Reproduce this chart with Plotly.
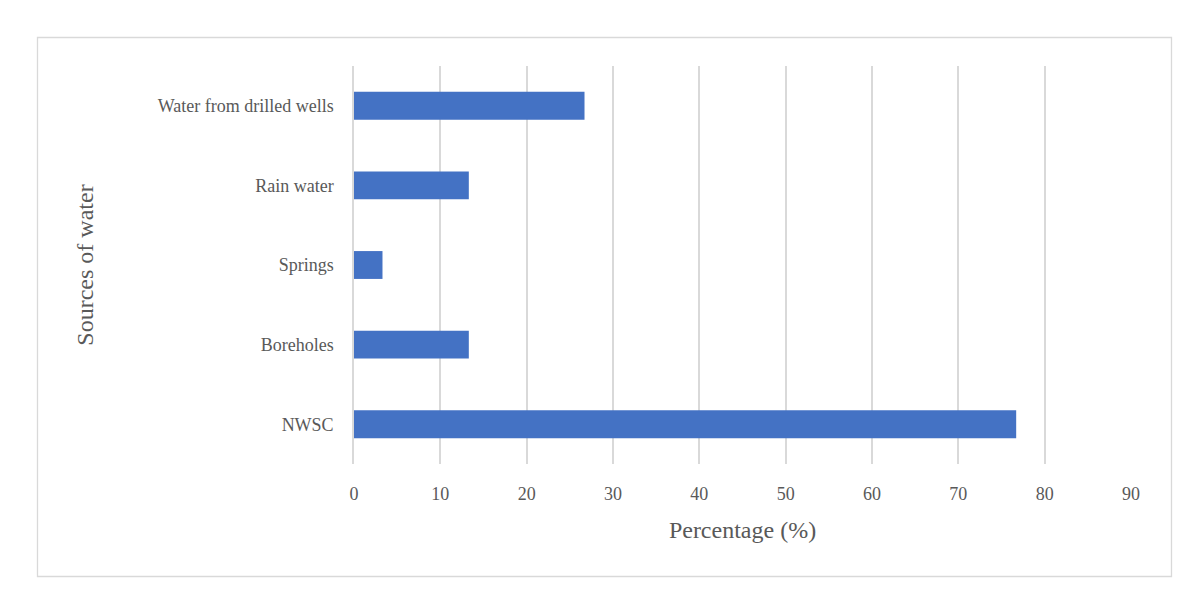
import plotly.graph_objects as go

categories = ["NWSC", "Boreholes", "Springs", "Rain water", "Water from drilled wells"]
percentages = [76.7, 13.3, 3.3, 13.3, 26.7]
x_ticks = [0, 10, 20, 30, 40, 50, 60, 70, 80, 90]

W, H = 1203, 608
L, R, T, B = 354, 72, 66, 144
pw, ph = W - L - R, H - T - B

def px_x(p):
    return (p - L) / pw

def px_y(p):
    return (H - B - p) / ph

FONT = "Liberation Serif"
GREY = "#595959"

fig = go.Figure(go.Bar(
    y=categories, x=percentages, orientation="h",
    marker=dict(color="#4472C4", line=dict(width=0)),
))

fig.update_layout(
    width=W, height=H,
    margin=dict(l=L, r=R, t=T, b=B),
    paper_bgcolor="white", plot_bgcolor="white",
    bargap=0.65,
    showlegend=False,
    font=dict(family=FONT, color=GREY, size=18),
    xaxis=dict(
        range=[0, 90], tickvals=x_ticks, showgrid=True, gridcolor="#d9d9d9", gridwidth=1.5,
        zeroline=False, showline=False, ticks="", ticklabelstandoff=17,
        tickfont=dict(size=18, color=GREY, family=FONT),
        title=dict(text="Percentage (%)", font=dict(size=24, color=GREY, family=FONT), standoff=18),
    ),
    yaxis=dict(
        showgrid=False, zeroline=False, showline=True, linecolor="#d9d9d9", linewidth=1.5,
        ticks="", ticklabelstandoff=15,
        tickfont=dict(size=18, color=GREY, family=FONT),
        title=dict(text="Sources of water", font=dict(size=24, color=GREY, family=FONT), standoff=57),
    ),
    shapes=[dict(
        type="rect", xref="paper", yref="paper",
        x0=px_x(37.5), x1=px_x(1171.5), y0=px_y(576.5), y1=px_y(37.5),
        line=dict(color="#d9d9d9", width=1.3), fillcolor="rgba(0,0,0,0)", layer="below",
    )],
)

fig.write_html("out.html")
